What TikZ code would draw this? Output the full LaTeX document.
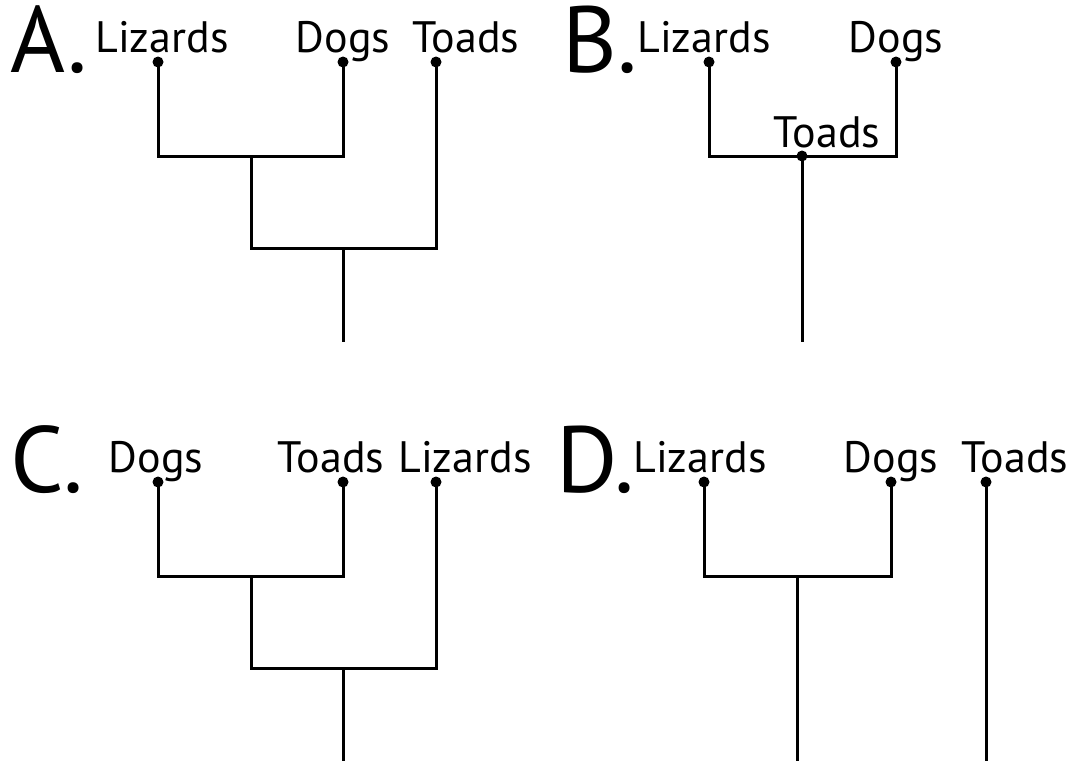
\documentclass[tikz,border=0pt]{standalone}
\usepackage{fontspec}
\setmainfont{PT Sans}

\tikzset{
  taxon/.style={anchor=base, inner sep=0pt, font=\fontsize{44}{44}\selectfont},
  letter/.style={anchor=base west, inner sep=0pt, font=\fontsize{94}{94}\selectfont},
  tip/.style={circle, fill, inner sep=0pt, minimum size=11pt},
  branch/.style={line width=3pt}
}

\begin{document}
\begin{tikzpicture}[x=1pt, y=-1pt]
  \useasboundingbox (0,0) rectangle (1073,761);
  % A
  \node[letter] (A) at (10,72) {A.};
  \node[taxon] (A1) at (162,52) {Lizards};
  \node[taxon] (A2) at (343,52) {Dogs};
  \node[taxon] (A3) at (466,52) {Toads};
  \node[tip] (a1) at (158,62) {};
  \node[tip] (a2) at (343,62) {};
  \node[tip] (a3) at (436,62) {};
  \coordinate (a4) at (158,156);
  \coordinate (a5) at (343,156);
  \coordinate (a6) at (251,156);
  \coordinate (a7) at (251,248);
  \coordinate (a8) at (436,248);
  \coordinate (a9) at (343,248);
  \coordinate (a10) at (343,342);
  \draw[branch] (a1.center)--(a4)--(a5)--(a2.center);
  \draw[branch] (a6)--(a7)--(a8)--(a3.center);
  \draw[branch] (a9)--(a10);
  % B
  \node[letter] (B) at (562,72) {B.};
  \node[taxon] (B1) at (704,52) {Lizards};
  \node[taxon] (B2) at (896,52) {Dogs};
  \node[taxon] (B3) at (827,147) {Toads};
  \node[tip] (b1) at (709,62) {};
  \node[tip] (b2) at (896,62) {};
  \node[tip] (b3) at (802,156) {};
  \coordinate (b4) at (709,156);
  \coordinate (b5) at (896,156);
  \coordinate (b6) at (802,342);
  \draw[branch] (b1.center)--(b4)--(b5)--(b2.center);
  \draw[branch] (b3.center)--(b6);
  % C
  \node[letter] (C) at (10,492) {C.};
  \node[taxon] (C1) at (156,472) {Dogs};
  \node[taxon] (C2) at (331,472) {Toads};
  \node[taxon] (C3) at (465,472) {Lizards};
  \node[tip] (c1) at (158,482) {};
  \node[tip] (c2) at (343,482) {};
  \node[tip] (c3) at (436,482) {};
  \coordinate (c4) at (158,576);
  \coordinate (c5) at (343,576);
  \coordinate (c6) at (251,576);
  \coordinate (c7) at (251,668);
  \coordinate (c8) at (436,668);
  \coordinate (c9) at (343,668);
  \coordinate (c10) at (343,761);
  \draw[branch] (c1.center)--(c4)--(c5)--(c2.center);
  \draw[branch] (c6)--(c7)--(c8)--(c3.center);
  \draw[branch] (c9)--(c10);
  % D
  \node[letter] (D) at (556,492) {D.};
  \node[taxon] (D1) at (700,472) {Lizards};
  \node[taxon] (D2) at (891,472) {Dogs};
  \node[taxon] (D3) at (1015,472) {Toads};
  \node[tip] (d1) at (704,482) {};
  \node[tip] (d2) at (891,482) {};
  \node[tip] (d3) at (986,482) {};
  \coordinate (d4) at (704,576);
  \coordinate (d5) at (891,576);
  \coordinate (d6) at (797,576);
  \coordinate (d7) at (797,761);
  \coordinate (d8) at (986,761);
  \draw[branch] (d1.center)--(d4)--(d5)--(d2.center);
  \draw[branch] (d6)--(d7);
  \draw[branch] (d3.center)--(d8);
\end{tikzpicture}
\end{document}
